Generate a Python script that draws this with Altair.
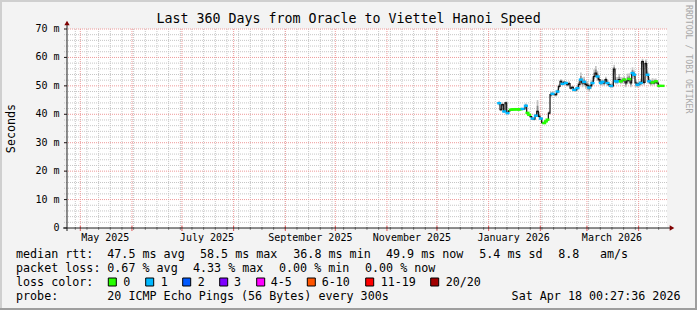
import altair as alt
import pandas as pd
from datetime import datetime, timedelta

FONT = "DejaVu Sans Mono"

# ---------------- data ----------------
START = datetime(2025, 4, 23, 0, 27, 36)
END = datetime(2026, 4, 18, 0, 27, 36)
FIRST = datetime(2026, 1, 6, 20, 0, 0)   # first day with measurements

# daily median rtt (ms); None = no data
median_ms = [43.9, 41.6, 43.4, 41.0, 44.0, 40.4, 41.2, 41.6, 41.7, 41.7,
             41.8, 41.7, 41.7, 41.8, 41.9, 41.9, 43.0, 40.5, 39.8, 39.2,
             38.5, 38.3, 39.5, 41.0, 39.3, 38.5, 37.1, 36.9, 37.5, 38.1,
             40.4, 46.9, 47.2, 47.0, 46.9, 48.0, 49.8, 51.6, 50.7, 51.2,
             51.0, 50.4, 50.8, 49.2, 49.5, 48.6, 48.6, 49.2, 50.5, 52.2,
             51.0, 51.4, 50.5, 50.2, 49.4, 50.0, 51.0, 53.3, 54.5, 53.3,
             52.2, 51.0, 51.4, 51.0, 52.2, 51.0, 50.4, 50.0, 50.0, 55.9,
             51.6, 51.6, 52.2, 51.6, 51.8, 52.2, 51.0, 51.8, 52.4, 51.0,
             54.5, 53.9, 51.0, 50.4, 50.7, 51.0, 58.5, 51.2, 57.8, 53.9,
             51.6, 51.0, 51.2, 51.0, 51.6, 51.0, 50.0, None, 50.0]

# visible loss colour per day: g = 0 lost, c = 1 lost, - = none shown
loss_mark = list("c--c-c-ggg" "ggggc-cgg-" "c-c--c-ggg" "--c--c--c-" "c----c-c-c"
                 "-c--c-c--c" "-cc--c-c--" "cc-g-g--g-" "cc-c-c---c" "c-g-g-g-g")

# smoke spread above / below the median (ms)
smoke_up = [0.8, 0.5, 0.7, 0.5, 0.5, 0.4, 0.3, 0.3, 0.3, 0.3,
            0.3, 0.3, 0.3, 0.3, 0.3, 0.4, 0.8, 0.4, 0.3, 0.4,
            0.5, 0.5, 0.6, 4.0, 1.5, 0.5, 0.5, 0.4, 0.3, 0.3,
            0.8, 1.0, 0.8, 0.6, 0.6, 0.8, 0.8, 0.8, 0.8, 0.7,
            0.7, 0.7, 0.8, 0.6, 0.6, 0.6, 0.8, 1.0, 1.5, 2.5,
            2.0, 1.8, 1.5, 1.5, 1.2, 1.5, 2.0, 2.5, 2.5, 2.0,
            1.5, 1.2, 1.0, 1.0, 1.0, 1.0, 0.8, 0.8, 1.5, 1.5,
            1.5, 1.5, 2.0, 1.5, 1.2, 1.2, 1.5, 2.5, 2.0, 1.5,
            2.0, 1.5, 1.2, 1.0, 1.0, 1.5, 1.0, 2.0, 1.5, 1.5,
            1.5, 1.2, 1.5, 1.5, 1.0, 0.8, 0.6, 0.0, 0.3]
smoke_dn = [0.8, 0.5, 0.7, 0.5, 0.7, 0.4, 0.3, 0.3, 0.3, 0.3,
            0.3, 0.3, 0.3, 0.3, 0.3, 0.3, 0.5, 0.4, 0.3, 0.4,
            0.5, 0.5, 0.4, 0.8, 0.5, 0.5, 0.5, 0.3, 0.3, 0.3,
            0.6, 1.0, 0.6, 0.6, 0.6, 0.6, 0.8, 0.8, 0.6, 0.7,
            0.7, 0.6, 0.8, 0.6, 0.6, 0.6, 0.8, 0.8, 1.0, 1.2,
            1.5, 1.5, 1.5, 1.8, 1.5, 1.2, 1.0, 1.5, 1.5, 1.5,
            1.2, 1.0, 1.0, 1.0, 1.0, 1.0, 0.8, 0.8, 0.8, 2.0,
            1.0, 1.0, 1.0, 1.0, 1.0, 1.0, 1.5, 1.2, 1.0, 1.5,
            2.0, 1.5, 1.5, 1.0, 1.0, 1.0, 2.0, 1.0, 2.0, 1.5,
            1.0, 1.0, 0.8, 0.8, 0.8, 0.8, 0.6, 0.0, 0.3]

y_ticks = [0, 10, 20, 30, 40, 50, 60, 70]
label_months = [(2025, 5, "May 2025"), (2025, 7, "July 2025"), (2025, 9, "September 2025"),
                (2025, 11, "November 2025"), (2026, 1, "January 2026"), (2026, 3, "March 2026")]

loss_labels = ["0", "1", "2", "3", "4-5", "6-10", "11-19", "20/20"]
loss_colors = ["#26ff00", "#00b8ff", "#0059ff", "#7e00ff", "#ff00ff", "#ff5500", "#ff0000", "#a10000"]

title_text = "Last 360 Days from Oracle to Viettel Hanoi Speed"
legend_rows = [
    ["median rtt:", "47.5 ms avg", "58.5 ms max", "36.8 ms min", "49.9 ms now", "5.4 ms sd", "8.8", "am/s"],
    ["packet loss:", "0.67 % avg", "4.33 % max", "0.00 % min", "0.00 % now"],
    ["loss color:"],
    ["probe:", "20 ICMP Echo Pings (56 Bytes) every 300s"],
]
stamp_text = "Sat Apr 18 00:27:36 2026"

# ---------------- layout ----------------
W, H = 600, 199
OX, OY = 67, 29
TOTAL_W, TOTAL_H = 697, 310
legend_x = [[16, 107.3, 200, 293.3, 386, 479.3, 558.3, 600],
            [16, 107.3, 193, 279, 365],
            [16],
            [16, 107.3]]
legend_base = [257.5, 271.5, 285.5, 299.5]
swatch_x = [108.3, 145.7, 182.7, 219.7, 256.7, 307.3, 365.7, 430.7]
swatch_lbl_x = [123.3, 160.7, 197.7, 234, 270.7, 321.7, 380.7, 445.7]

GRID = "#c6c6c6"
MGRID = "#ee9a9a"
AXIS = "#1e1e1e"
ARROW = "#7f0000"

SPAN = (END - START).total_seconds() / 86400.0


def dday(dt):
    return (dt - START).total_seconds() / 86400.0


xs = alt.Scale(domain=[0, SPAN], nice=False, zero=False)
ys = alt.Scale(domain=[0, 70], nice=False, zero=False)

# ---------------- tables ----------------
rows = []
for i, m in enumerate(median_ms):
    if m is None:
        continue
    t0 = dday(FIRST + timedelta(days=i))
    rows.append(dict(t0=t0, t1=t0 + 1.0, ms=m, seg=0 if i < 97 else 1,
                     hi=m + smoke_up[i], lo=m - smoke_dn[i],
                     hi2=m + smoke_up[i] / 2, lo2=m - smoke_dn[i] / 2,
                     mark=loss_mark[i]))
df = pd.DataFrame(rows)
df["col"] = df["mark"].map({"g": loss_colors[0], "c": loss_colors[1]})
dmark = df[df["mark"] != "-"]

months = []
y, mo = 2025, 5
while datetime(y, mo, 1) < END:
    months.append(dday(datetime(y, mo, 1)))
    mo += 1
    if mo > 12:
        mo, y = 1, y + 1
weeks = []
wk = datetime(2025, 4, 28)
while wk < END:
    weeks.append(dday(wk))
    wk += timedelta(days=7)

minor_h = [v for v in range(2, 70, 2) if v % 10]
major_h = [v for v in range(10, 71, 10)]

# ---------------- layers ----------------
def vrule(vals, color, y2=H):
    return alt.Chart(pd.DataFrame({"d": vals})).mark_rule(
        color=color, strokeDash=[1, 1], strokeWidth=1).encode(
        x=alt.X("d:Q", scale=xs, axis=None), y=alt.value(0), y2=alt.value(y2))


def hrule(vals, color):
    return alt.Chart(pd.DataFrame({"v": vals})).mark_rule(
        color=color, strokeDash=[1, 1], strokeWidth=1).encode(
        y=alt.Y("v:Q", scale=ys, axis=None), x=alt.value(-3), x2=alt.value(W))


grid_layers = [vrule(weeks, GRID), hrule(minor_h, GRID), vrule(months, MGRID), hrule(major_h, MGRID)]

xticks_minor = alt.Chart(pd.DataFrame({"d": weeks})).mark_rule(color="#8f8f8f", strokeWidth=1).encode(
    x=alt.X("d:Q", scale=xs, axis=None), y=alt.value(H - 1), y2=alt.value(H + 2))
xticks_major = alt.Chart(pd.DataFrame({"d": months})).mark_rule(color="#e05050", strokeWidth=1).encode(
    x=alt.X("d:Q", scale=xs, axis=None), y=alt.value(H - 2), y2=alt.value(H + 3))

ylab = pd.DataFrame({"v": y_ticks})
ylab["t"] = ["0\u00a0\u00a0" if v == 0 else f"{v} m" for v in y_ticks]
yticks = alt.Chart(ylab).mark_rule(color=AXIS, strokeWidth=1).encode(
    y=alt.Y("v:Q", scale=ys, axis=None), x=alt.value(-3), x2=alt.value(0))
ylabels = alt.Chart(ylab).mark_text(font=FONT, fontSize=10, color="#000000", align="right",
                                    baseline="middle").encode(
    y=alt.Y("v:Q", scale=ys, axis=None), x=alt.value(59.5 - OX), text="t:N")

smoke_outer = alt.Chart(df).mark_rect(color="#c4c4c4").encode(
    x=alt.X("t0:Q", scale=xs, axis=None), x2="t1:Q",
    y=alt.Y("lo:Q", scale=ys, axis=None), y2="hi:Q")
smoke_inner = alt.Chart(df).mark_rect(color="#8a8a8a").encode(
    x=alt.X("t0:Q", scale=xs, axis=None), x2="t1:Q",
    y=alt.Y("lo2:Q", scale=ys, axis=None), y2="hi2:Q")

med_line = alt.Chart(df).mark_line(color="#111111", strokeWidth=1.2, interpolate="step-after").encode(
    x=alt.X("t0:Q", scale=xs, axis=None),
    y=alt.Y("ms:Q", scale=ys, axis=None),
    detail="seg:N")

loss_marks = alt.Chart(dmark).mark_rule(strokeWidth=2.4, strokeCap="square").encode(
    x=alt.X("t0:Q", scale=xs, axis=None), x2="t1:Q",
    y=alt.Y("ms:Q", scale=ys, axis=None),
    color=alt.Color("col:N", scale=None))

one = pd.DataFrame({"k": [0]})
yaxis_line = alt.Chart(one).mark_rule(color=AXIS, strokeWidth=1).encode(
    x=alt.value(0), y=alt.value(-4), y2=alt.value(H + 3))
xaxis_line = alt.Chart(one).mark_rule(color=AXIS, strokeWidth=1).encode(
    y=alt.value(H), x=alt.value(-4), x2=alt.value(W + 3))
arrow_up = alt.Chart(one).mark_point(shape="triangle-up", filled=True, size=28, color=ARROW, opacity=1).encode(
    x=alt.value(0), y=alt.value(-6))
arrow_right = alt.Chart(one).mark_point(shape="triangle-right", filled=True, size=28, color=ARROW, opacity=1).encode(
    x=alt.value(W + 5), y=alt.value(H))

# month labels
mlab = pd.DataFrame({"d": [dday(datetime(yy, mm, 1)) + 15.0 for yy, mm, _ in label_months],
                     "t": [t for _, _, t in label_months]})
month_text = alt.Chart(mlab).mark_text(font=FONT, fontSize=10, color="#000000", align="center",
                                       baseline="alphabetic").encode(
    x=alt.X("d:Q", scale=xs, axis=None), y=alt.value(240.6 - OY), text="t:N")

# legend texts
lt = []
for r, items in enumerate(legend_rows):
    for j, s in enumerate(items):
        lt.append(dict(px=legend_x[r][j] - OX, py=legend_base[r] - OY, t=s))
for j, s in enumerate(loss_labels):
    lt.append(dict(px=swatch_lbl_x[j] - OX, py=legend_base[2] - OY, t=s))
legend_text = alt.Chart(pd.DataFrame(lt)).mark_text(font=FONT, fontSize=11.7, color="#000000",
                                                     align="left", baseline="alphabetic").encode(
    x=alt.X("px:Q", scale=None), y=alt.Y("py:Q", scale=None), text="t:N")

sw = pd.DataFrame({"x0": [v - OX for v in swatch_x], "c": loss_colors})
sw["x1"] = sw["x0"] + 8
sw["y0"] = 278.0 - OY
sw["y1"] = 286.0 - OY
swatches = alt.Chart(sw).mark_rect(stroke="#000000", strokeWidth=1).encode(
    x=alt.X("x0:Q", scale=None), x2="x1:Q", y=alt.Y("y0:Q", scale=None), y2="y1:Q",
    fill=alt.Color("c:N", scale=None))

stamp = alt.Chart(one).mark_text(font=FONT, fontSize=11.7, color="#000000", align="right",
                                 baseline="alphabetic", text=stamp_text).encode(
    x=alt.value(680.5 - OX), y=alt.value(legend_base[3] - OY))
title = alt.Chart(one).mark_text(font=FONT, fontSize=13.3, color="#000000", align="center",
                                 baseline="alphabetic", text=title_text).encode(
    x=alt.value(TOTAL_W / 2 - OX), y=alt.value(23 - OY))
ytitle = alt.Chart(one).mark_text(font=FONT, fontSize=11.7, color="#000000", align="center",
                                  baseline="middle", angle=270, text="Seconds").encode(
    x=alt.value(11 - OX), y=alt.value(H / 2))
rrd = alt.Chart(one).mark_text(font=FONT, fontSize=8.2, color="#a8a8a8", align="left",
                               baseline="middle", angle=90, text="RRDTOOL / TOBI OETIKER").encode(
    x=alt.value(688 - OX), y=alt.value(5 - OY))

# frame shading
fr = pd.DataFrame({
    "x0": [0, 0, TOTAL_W - 2, 0], "x1": [2, TOTAL_W, TOTAL_W, TOTAL_W],
    "y0": [0, 0, 0, TOTAL_H - 2], "y1": [TOTAL_H, 2, TOTAL_H, TOTAL_H],
    "c": ["#cfcfcf", "#cfcfcf", "#9e9e9e", "#9e9e9e"]})
for k in ["x0", "x1"]:
    fr[k] = fr[k] - OX
for k in ["y0", "y1"]:
    fr[k] = fr[k] - OY
frame = alt.Chart(fr).mark_rect().encode(
    x=alt.X("x0:Q", scale=None), x2="x1:Q", y=alt.Y("y0:Q", scale=None), y2="y1:Q",
    fill=alt.Color("c:N", scale=None))

chart = alt.layer(
    frame, *grid_layers, smoke_outer, smoke_inner, med_line, loss_marks,
    xticks_minor, xticks_major, yticks, yaxis_line, xaxis_line, arrow_up, arrow_right,
    ylabels, month_text, legend_text, swatches, stamp, title, ytitle, rrd
).properties(
    width=W, height=H,
    padding={"left": OX, "top": OY, "right": TOTAL_W - OX - W, "bottom": TOTAL_H - OY - H},
    autosize=alt.AutoSizeParams(type="none"),
    background="#f3f3f3",
).configure_view(fill="#ffffff", stroke=None)

chart.save("out.html", embed_options={"renderer": "svg", "actions": False})
